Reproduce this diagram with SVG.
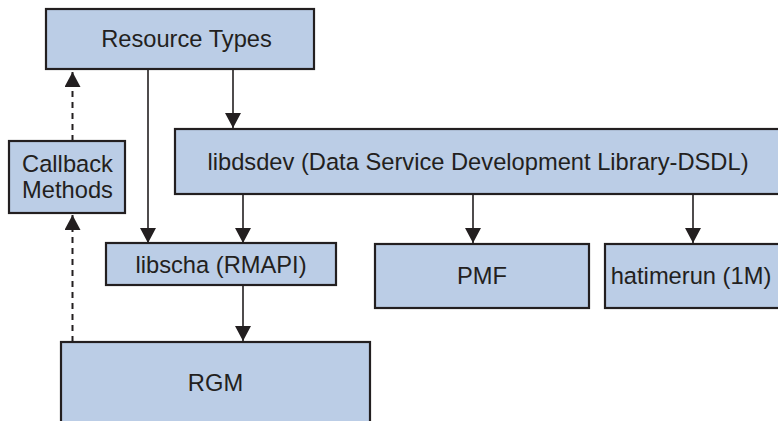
<svg xmlns="http://www.w3.org/2000/svg" width="778" height="421" viewBox="0 0 778 421">
<style>
.box{fill:#bbcde6;stroke:#231f20;stroke-width:2.2}
.lbl{font-family:"Liberation Sans",Arial,sans-serif;font-size:23.7px;fill:#231f20;text-anchor:middle}
.con{stroke:#231f20;stroke-width:1.6;fill:none}
.dash{stroke:#231f20;stroke-width:2;fill:none;stroke-dasharray:6 5}
</style>
<defs>
<marker id="ah" markerUnits="userSpaceOnUse" markerWidth="16" markerHeight="16" refX="15" refY="8" orient="auto">
<path d="M0,0 L15,8 L0,16 Z" fill="#231f20"/>
</marker>
</defs>
<g id="connectors">
<line class="con" x1="148" y1="69" x2="148" y2="243" marker-end="url(#ah)"/>
<line class="con" x1="233" y1="69" x2="233" y2="128" marker-end="url(#ah)"/>
<line class="con" x1="243" y1="194" x2="243" y2="243" marker-end="url(#ah)"/>
<line class="con" x1="473" y1="194" x2="473" y2="243" marker-end="url(#ah)"/>
<line class="con" x1="693" y1="194" x2="693" y2="243" marker-end="url(#ah)"/>
<line class="con" x1="243" y1="285" x2="243" y2="341" marker-end="url(#ah)"/>
<line class="dash" x1="72.5" y1="141" x2="72.5" y2="72" marker-end="url(#ah)"/>
<line class="dash" x1="72.5" y1="342" x2="72.5" y2="215" marker-end="url(#ah)"/>
</g>
<g id="resource-types">
<rect class="box" x="46" y="9" width="268" height="60"/>
<text class="lbl" x="186.5" y="47">Resource Types</text>
</g>
<g id="libdsdev">
<rect class="box" x="175" y="129" width="606" height="65"/>
<text class="lbl" x="478" y="170">libdsdev (Data Service Development Library-DSDL)</text>
</g>
<g id="callback-methods">
<rect class="box" x="9" y="141" width="116" height="72"/>
<text class="lbl" x="67.5" y="172">Callback</text>
<text class="lbl" x="67.5" y="198">Methods</text>
</g>
<g id="libscha">
<rect class="box" x="106" y="243" width="230" height="42"/>
<text class="lbl" x="221" y="273">libscha (RMAPI)</text>
</g>
<g id="pmf">
<rect class="box" x="375" y="244" width="214" height="64"/>
<text class="lbl" x="482" y="284">PMF</text>
</g>
<g id="hatimerun">
<rect class="box" x="605" y="244" width="176" height="64"/>
<text class="lbl" x="691" y="284">hatimerun (1M)</text>
</g>
<g id="rgm">
<rect class="box" x="61" y="342" width="309" height="90"/>
<text class="lbl" x="215.5" y="391">RGM</text>
</g>
</svg>
